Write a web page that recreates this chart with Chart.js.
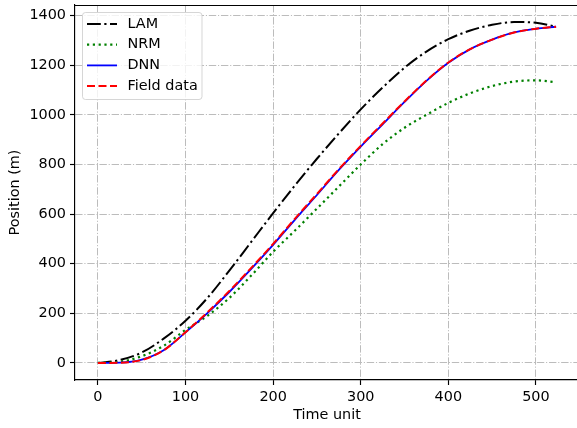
<!DOCTYPE html>
<html lang="en">
<head>
    <meta charset="utf-8" />
    <title>Position vs time</title>
    <style>
        html, body { margin: 0; padding: 0; background: #fff; overflow: hidden; }
        #wrap { width: 580px; height: 428px; }
    </style>
</head>
<body>
    <div id="wrap"><canvas id="posChart" width="580" height="428"></canvas></div>

    <script src="https://cdn.jsdelivr.net/npm/chart.js"></script>
    <script>
        // time steps and positions (m)
        const timeSteps = [0, 25, 50, 75, 100, 125, 150, 175, 200, 225, 250, 275, 300, 325, 350, 375, 400, 425, 450, 475, 500, 523];
        const lamPos   = [0, 12, 42, 98, 170, 262, 372, 488, 604, 716, 823, 925, 1022, 1110, 1190, 1255, 1305, 1340, 1363, 1374, 1371, 1355];
        const nrmPos   = [0, 5, 27, 69, 133, 190, 262, 352, 448, 534, 622, 711, 800, 882, 948, 1000, 1048, 1087, 1116, 1134, 1139, 1131];
        const dnnPos   = [0, 1, 13, 51, 123, 201, 286, 379, 476, 578, 677, 778, 872, 962, 1052, 1137, 1210, 1265, 1303, 1332, 1347, 1355];
        const fieldPos = [0, 1, 12, 51, 124, 204, 290, 383, 480, 582, 681, 781, 875, 965, 1054, 1138, 1211, 1265, 1303, 1332, 1347, 1355];

        const xTicks = [0, 100, 200, 300, 400, 500];
        const yTicks = [0, 200, 400, 600, 800, 1000, 1200, 1400];

        const FONT = 'DejaVu Sans';
        const FS = 14.4;
        const gridDash = [7.4, 1.8, 1.15, 1.8];

        function pts(arr) {
            return arr.map((v, i) => ({ x: timeSteps[i], y: v }));
        }

        // matplotlib-like legend box and top spine
        const mplExtras = {
            id: 'mplExtras',
            beforeDraw(chart) {
                const ctx = chart.ctx;
                ctx.save();
                ctx.fillStyle = '#fff';
                ctx.fillRect(0, 0, chart.width, chart.height);
                ctx.restore();
            },
            afterDraw(chart) {
                const ctx = chart.ctx;
                const area = chart.chartArea;
                const topY = Math.floor(area.top) + 0.5;
                ctx.save();
                ctx.strokeStyle = '#000';
                ctx.lineWidth = 1.2;
                ctx.beginPath();
                ctx.moveTo(area.left, topY);
                ctx.lineTo(area.right, topY);
                ctx.stroke();

                // legend frame
                const bx = 82.5, by = 12.5, bw = 119.5, bh = 87, r = 3;
                ctx.fillStyle = 'rgba(255,255,255,0.8)';
                ctx.strokeStyle = 'rgba(204,204,204,0.8)';
                ctx.lineWidth = 1;
                ctx.beginPath();
                ctx.moveTo(bx + r, by);
                ctx.arcTo(bx + bw, by, bx + bw, by + bh, r);
                ctx.arcTo(bx + bw, by + bh, bx, by + bh, r);
                ctx.arcTo(bx, by + bh, bx, by, r);
                ctx.arcTo(bx, by, bx + bw, by, r);
                ctx.closePath();
                ctx.fill();
                ctx.stroke();

                ctx.font = FS + 'px "' + FONT + '"';
                ctx.textBaseline = 'middle';
                ctx.textAlign = 'left';
                chart.data.datasets.forEach((ds, i) => {
                    const y = 24 + i * 20.7;
                    ctx.strokeStyle = ds.borderColor;
                    ctx.lineWidth = ds.borderWidth;
                    ctx.setLineDash(ds.borderDash || []);
                    ctx.beginPath();
                    ctx.moveTo(87, y);
                    ctx.lineTo(117, y);
                    ctx.stroke();
                    ctx.setLineDash([]);
                    ctx.fillStyle = '#000';
                    ctx.fillText(ds.label, 127.5, y);
                });
                ctx.restore();
            }
        };

        const plain = v => String(v);

        const ctx = document.getElementById('posChart').getContext('2d');
        new Chart(ctx, {
            type: 'line',
            data: {
                datasets: [
                    { label: 'LAM', data: pts(lamPos), borderColor: '#000000', borderWidth: 2, borderDash: [13.8, 3.5, 2.2, 3.5], order: 4 },
                    { label: 'NRM', data: pts(nrmPos), borderColor: '#008000', borderWidth: 2.2, borderDash: [2.2, 3.6], order: 3 },
                    { label: 'DNN', data: pts(dnnPos), borderColor: '#0000ff', borderWidth: 1.8, order: 2 },
                    { label: 'Field data', data: pts(fieldPos), borderColor: '#ff0000', borderWidth: 2, borderDash: [8, 3.5], order: 1 }
                ]
            },
            options: {
                responsive: false,
                animation: false,
                devicePixelRatio: 1,
                layout: { padding: { left: 0, top: 5, right: 1, bottom: 0 } },
                elements: {
                    point: { radius: 0, hoverRadius: 0 },
                    line: { cubicInterpolationMode: 'monotone', fill: false, borderCapStyle: 'butt' }
                },
                plugins: {
                    legend: { display: false },
                    tooltip: { enabled: false }
                },
                scales: {
                    x: {
                        type: 'linear',
                        min: -26.15,
                        max: 549.15,
                        afterFit: s => { s.height = 48; s.paddingLeft = 0; s.paddingRight = 0; },
                        afterBuildTicks: s => { s.ticks = xTicks.map(v => ({ value: v })); },
                        ticks: { color: '#000', padding: 4, maxRotation: 0, callback: plain, font: { family: FONT, size: FS } },
                        grid: { color: '#bcbcbc', lineWidth: 1, tickLength: 5, tickColor: '#000', tickWidth: 1.15 },
                        border: { display: true, color: '#000', width: 1.15, dash: gridDash },
                        title: { display: true, text: 'Time unit', color: '#000', font: { family: FONT, size: FS }, padding: { top: 0, bottom: 3.7 } }
                    },
                    y: {
                        type: 'linear',
                        min: -68.7,
                        max: 1442.7,
                        afterFit: s => { s.width = 75; s.paddingTop = 0; s.paddingBottom = 0; },
                        afterBuildTicks: s => { s.ticks = yTicks.map(v => ({ value: v })); },
                        ticks: { color: '#000', padding: 4, callback: plain, font: { family: FONT, size: FS } },
                        grid: { color: '#bcbcbc', lineWidth: 1, tickLength: 5, tickColor: '#000', tickWidth: 1.15 },
                        border: { display: true, color: '#000', width: 1.15, dash: gridDash },
                        title: { display: true, text: 'Position (m)', color: '#000', font: { family: FONT, size: FS }, padding: { top: 7, bottom: 0 } }
                    }
                }
            },
            plugins: [mplExtras]
        });
    </script>
</body>
</html>
